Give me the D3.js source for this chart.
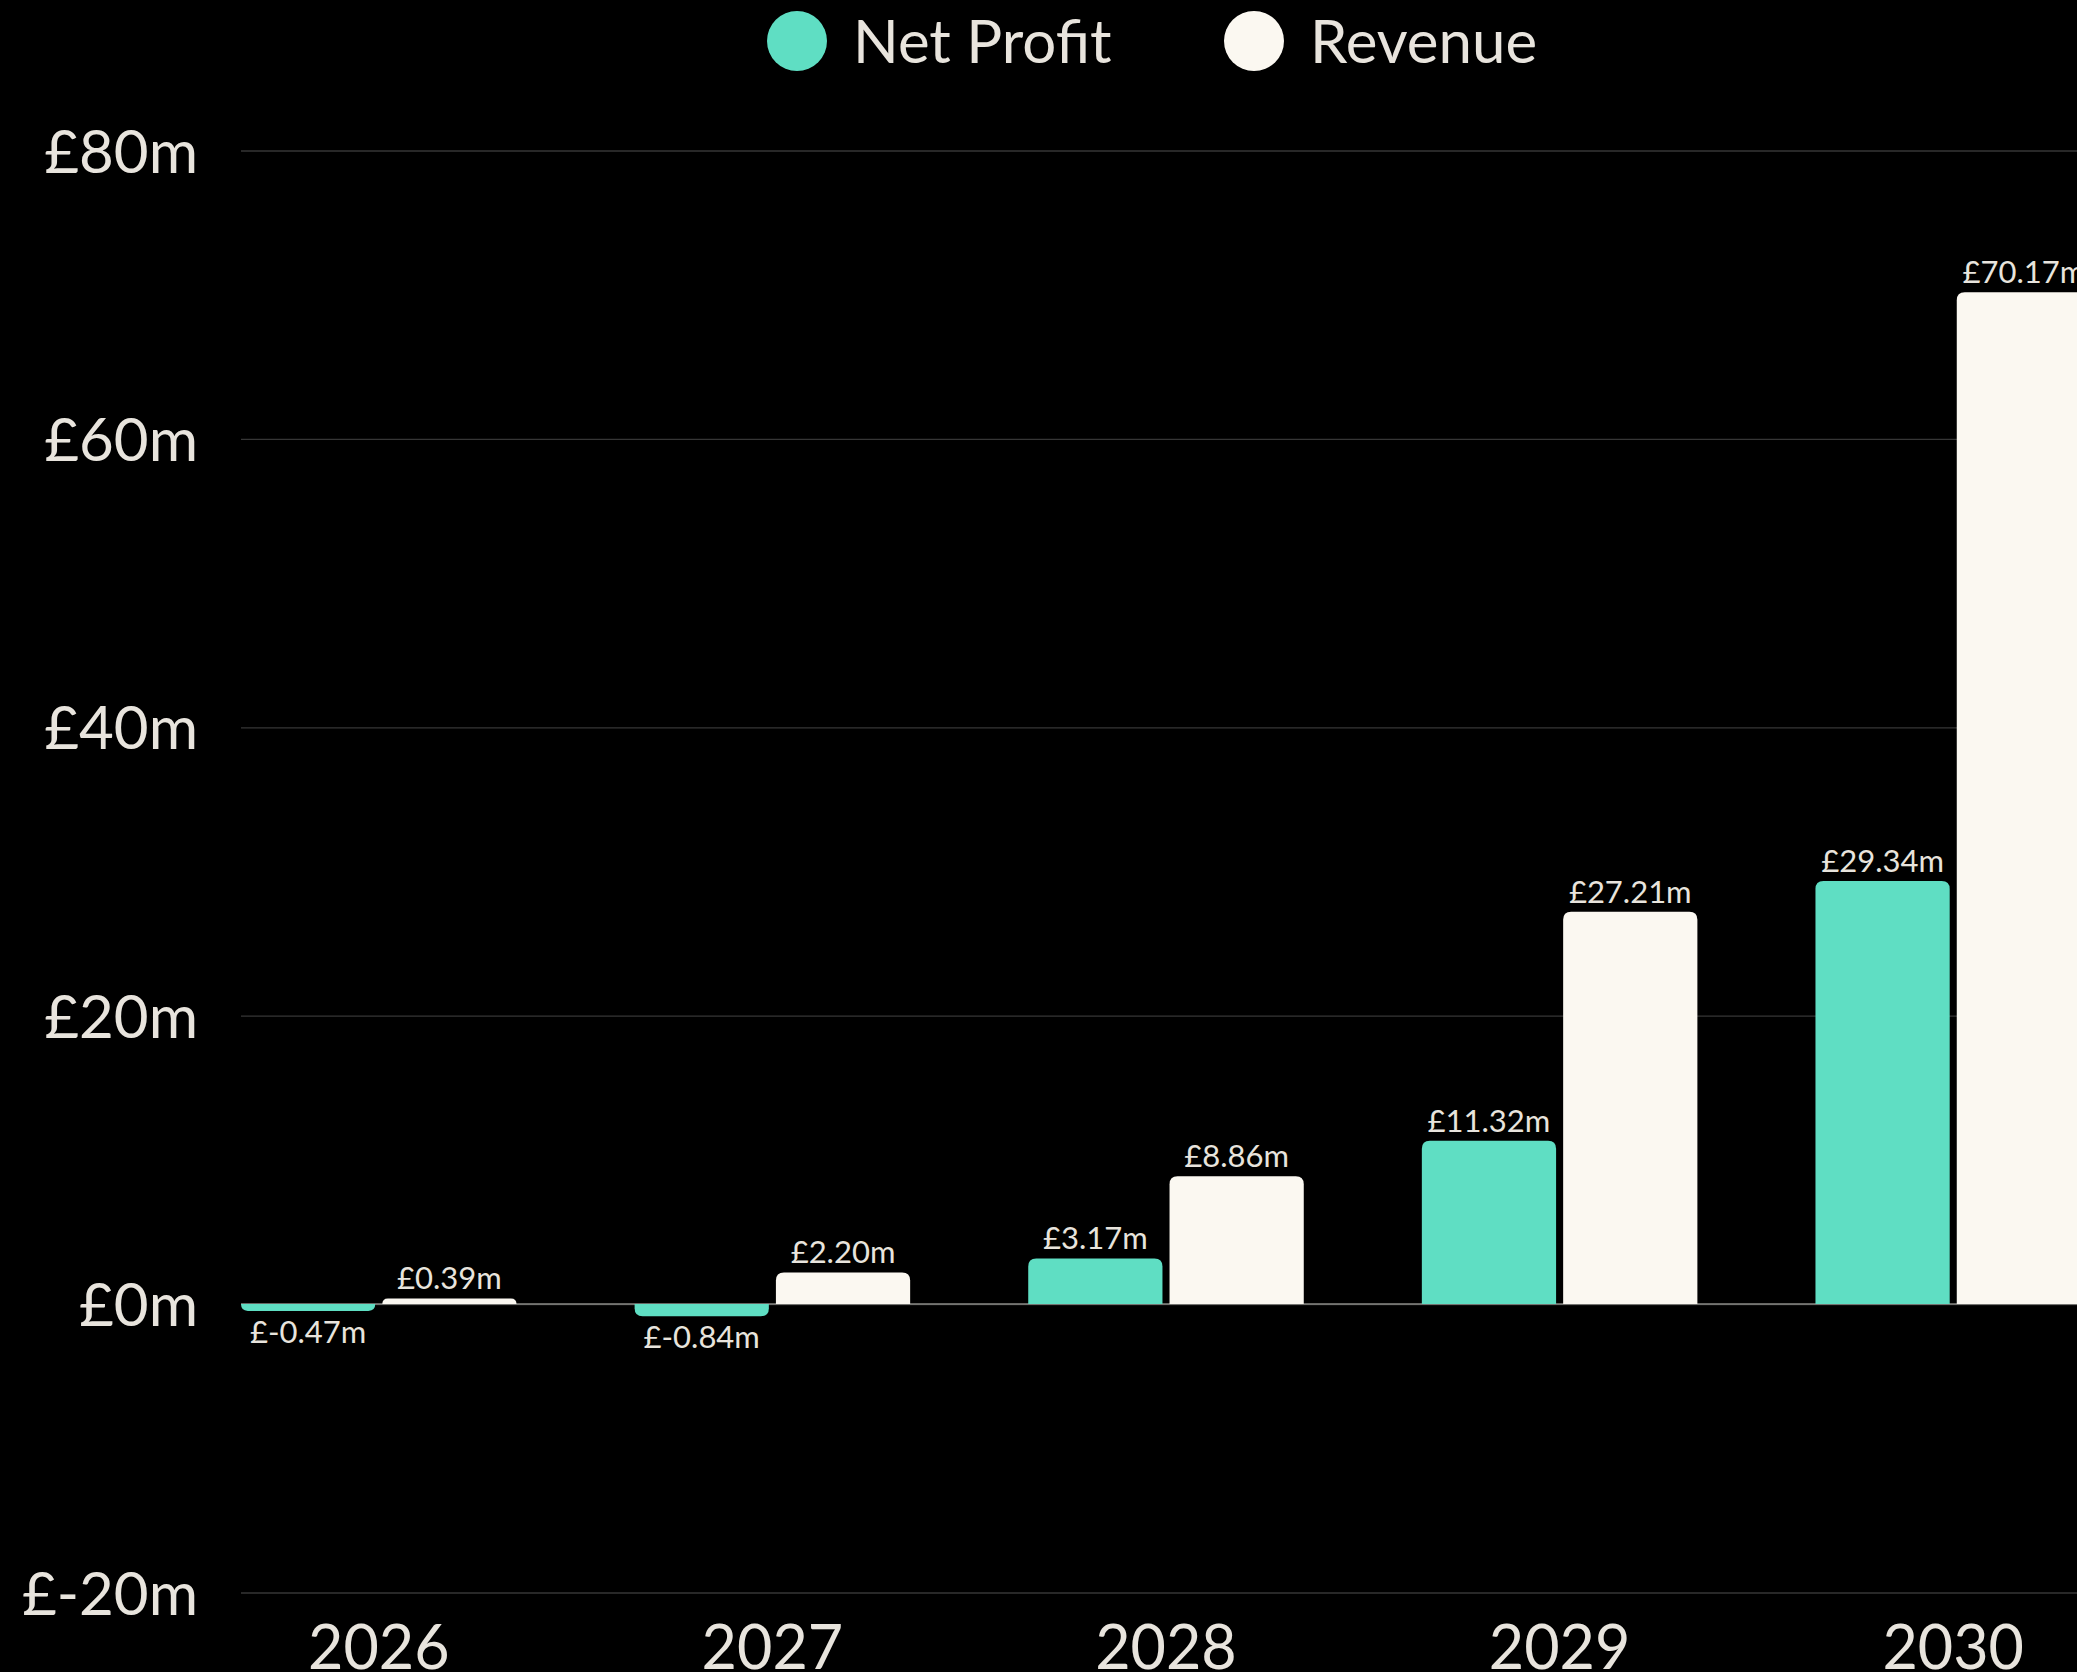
<!DOCTYPE html>
<html>
<head>
<meta charset="utf-8">
<script src="https://cdn.jsdelivr.net/npm/d3@7"></script>
<style>
  html, body { margin: 0; padding: 0; background: #000; overflow: hidden; }
  svg { display: block; }
</style>
</head>
<body>
<script>
(function(){

  //chart data
  var years = ["2026", "2027", "2028", "2029", "2030"];
  var seriesNames = ["Net Profit", "Revenue"];
  var netProfit = [-0.47, -0.84, 3.17, 11.32, 29.34];
  var revenue = [0.39, 2.20, 8.86, 27.21, 70.17];
  var yTicks = [-20, 0, 20, 40, 60, 80];

  var colors = {"Net Profit": "#5fdec3", "Revenue": "#fbf8f1"};
  var textColor = "#e8e4dd";

  window.onload = drawChart();

  function drawChart(){
    var width = 2077,
        height = 1672;

    var svg = d3.select("body")
      .append("svg")
      .attr("width", width)
      .attr("height", height);

    //scales (plot runs past the right edge, as in the original)
    var x0 = d3.scaleBand()
      .domain(years)
      .range([241, 2091])
      .paddingInner(0.3)
      .paddingOuter(0);

    var x1 = d3.scaleBand()
      .domain(seriesNames)
      .range([0, x0.bandwidth()])
      .paddingInner(0.05);

    var y = d3.scaleLinear()
      .domain([-20, 80])
      .range([1592.5, 150.5]);

    //y axis with gridlines
    var yAxis = svg.append("g")
      .attr("transform", "translate(241,0)")
      .call(d3.axisLeft(y)
        .tickValues(yTicks)
        .tickSize(-(width - 241))
        .tickFormat(function(d){ return "£" + d + "m"; }));

    yAxis.select(".domain").remove();
    yAxis.selectAll(".tick line")
      .attr("stroke", "#363636")
      .attr("stroke-width", 1.3);
    yAxis.selectAll(".tick text")
      .attr("x", -43)
      .attr("dy", "0.36em")
      .attr("fill", textColor)
      .style("font-family", "Lato, sans-serif")
      .style("font-size", "60px");

    //zero line
    svg.append("line")
      .attr("x1", 241)
      .attr("x2", width)
      .attr("y1", y(0))
      .attr("y2", y(0))
      .attr("stroke", "#8a8a86")
      .attr("stroke-width", 1.5);

    //x axis labels
    var xAxis = svg.append("g")
      .attr("transform", "translate(0," + y(-20) + ")")
      .call(d3.axisBottom(x0).tickSize(0));

    xAxis.select(".domain").remove();
    xAxis.selectAll(".tick text")
      .attr("y", 76)
      .attr("dy", 0)
      .attr("fill", textColor)
      .style("font-family", "Lato, sans-serif")
      .style("font-size", "61px");

    //build rows for the bars
    var rows = years.map(function(yr, i){
      return [
        {year: yr, key: "Net Profit", value: netProfit[i]},
        {year: yr, key: "Revenue", value: revenue[i]}
      ];
    });

    var groups = svg.selectAll(".year")
      .data(rows)
      .enter()
      .append("g")
      .attr("class", "year")
      .attr("transform", function(d){ return "translate(" + x0(d[0].year) + ",0)"; });

    groups.selectAll("path")
      .data(function(d){ return d; })
      .enter()
      .append("path")
      .attr("d", function(d){
        return barPath(x1(d.key), x1.bandwidth(), y(0), y(d.value), 8);
      })
      .attr("fill", function(d){ return colors[d.key]; });

    //value labels
    groups.selectAll("text")
      .data(function(d){ return d; })
      .enter()
      .append("text")
      .attr("x", function(d){ return x1(d.key) + x1.bandwidth() / 2; })
      .attr("y", function(d){
        return d.value >= 0 ? y(d.value) - 9 : y(d.value) + 32;
      })
      .attr("text-anchor", "middle")
      .attr("fill", textColor)
      .style("font-family", "Lato, sans-serif")
      .style("font-size", "31px")
      .text(function(d){ return "£" + d.value.toFixed(2) + "m"; });

    //legend
    var legendPos = [{cx: 797, tx: 853}, {cx: 1254, tx: 1310}];
    var legend = svg.selectAll(".legend")
      .data(seriesNames)
      .enter()
      .append("g")
      .attr("class", "legend");

    legend.append("circle")
      .attr("cx", function(d, i){ return legendPos[i].cx; })
      .attr("cy", 41)
      .attr("r", 30)
      .attr("fill", function(d){ return colors[d]; });

    legend.append("text")
      .attr("x", function(d, i){ return legendPos[i].tx; })
      .attr("y", 63)
      .attr("fill", textColor)
      .style("font-family", "Lato, sans-serif")
      .style("font-size", "60px")
      .text(function(d){ return d; });
  };

  //bar with rounded corners at the end away from zero
  function barPath(x, w, y0, yv, r){
    var h = Math.abs(y0 - yv);
    r = Math.min(r, h, w / 2);
    if (yv <= y0){
      return "M" + x + "," + y0 +
        "V" + (yv + r) +
        "Q" + x + "," + yv + " " + (x + r) + "," + yv +
        "H" + (x + w - r) +
        "Q" + (x + w) + "," + yv + " " + (x + w) + "," + (yv + r) +
        "V" + y0 + "Z";
    } else {
      return "M" + x + "," + y0 +
        "V" + (yv - r) +
        "Q" + x + "," + yv + " " + (x + r) + "," + yv +
        "H" + (x + w - r) +
        "Q" + (x + w) + "," + yv + " " + (x + w) + "," + (yv - r) +
        "V" + y0 + "Z";
    }
  };
})();
</script>
</body>
</html>
